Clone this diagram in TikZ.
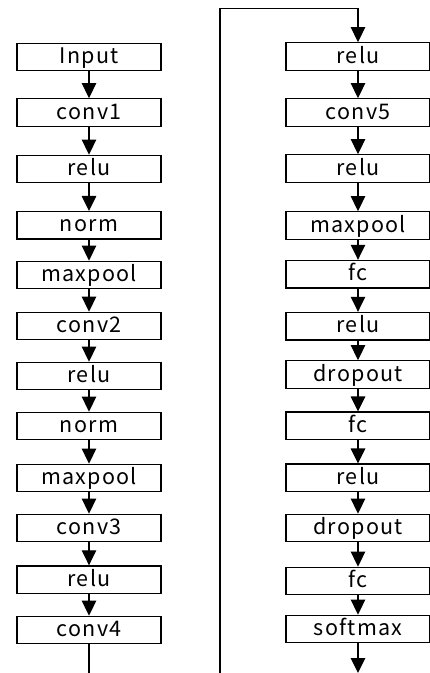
\documentclass[tikz,border=0pt]{standalone}
\usepackage{fontspec}
\setmainfont{Noto Sans CJK JP}[LetterSpace=6]
\usetikzlibrary{arrows.meta}
\begin{document}
\begin{tikzpicture}[x=1pt,y=-1pt,
  layer/.style={draw=black,line width=1.3pt,minimum width=144pt,minimum height=27.5pt,
    inner sep=0pt,text height=17pt,text depth=4pt,font=\fontsize{21.5}{21.5}\selectfont},
  flow/.style={line width=1.3pt,-{Triangle[width=14.5pt,length=15pt]}},
  plain/.style={line width=1.3pt}]
\useasboundingbox (0,0) rectangle (430,673);
% left column
\node[layer] (l1) at (89,57) {Input};
\node[layer] (l2) at (89,112.5) {conv1};
\node[layer] (l3) at (89,169) {relu};
\node[layer] (l4) at (89,225.3) {norm};
\node[layer] (l5) at (89,275) {maxpool};
\node[layer] (l6) at (89,326) {conv2};
\node[layer] (l7) at (89,376) {relu};
\node[layer] (l8) at (89,426) {norm};
\node[layer] (l9) at (89,478) {maxpool};
\node[layer] (l10) at (89,528) {conv3};
\node[layer] (l11) at (89,579.7) {relu};
\node[layer] (l12) at (89,630) {conv4};
% right column
\node[layer] (r1) at (358,56.5) {relu};
\node[layer] (r2) at (358,112.5) {conv5};
\node[layer] (r3) at (358,168.5) {relu};
\node[layer] (r4) at (358,225.5) {maxpool};
\node[layer] (r5) at (358,274.2) {fc};
\node[layer] (r6) at (358,326.2) {relu};
\node[layer] (r7) at (358,374.5) {dropout};
\node[layer] (r8) at (358,425.8) {fc};
\node[layer] (r9) at (358,477.8) {relu};
\node[layer] (r10) at (358,528) {dropout};
\node[layer] (r11) at (358,581) {fc};
\node[layer] (r12) at (358,629) {softmax};
% arrows
\foreach \a/\b in {l1/l2,l2/l3,l3/l4,l4/l5,l5/l6,l6/l7,l7/l8,l8/l9,l9/l10,l10/l11,l11/l12,
  r1/r2,r2/r3,r3/r4,r4/r5,r5/r6,r6/r7,r7/r8,r8/r9,r9/r10,r10/r11,r11/r12}
  \draw[flow] (\a) -- (\b);
\coordinate (lend) at (89,675);
\coordinate (rend) at (358,673);
\coordinate (loopstart) at (220,675);
\coordinate (looptop) at (220,8.3);
\draw[plain] (l12) -- (lend);
\draw[flow] (r12) -- (rend);
\draw[flow] (loopstart) -- (looptop) -| (r1);
\end{tikzpicture}
\end{document}
